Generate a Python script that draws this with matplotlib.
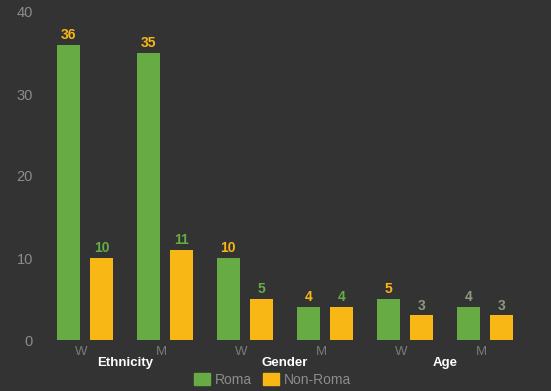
import numpy as np
import matplotlib.pyplot as plt
from matplotlib.patches import Patch

# counts per subgroup
sub_labels = ['W', 'M', 'W', 'M', 'W', 'M']
group_names = ['Ethnicity', 'Gender', 'Age']
roma = [36, 35, 10, 4, 5, 4]
non_roma = [10, 11, 5, 4, 3, 3]

BG = '#333333'
GREEN = '#67ab45'
GOLD = '#f9b715'
roma_label_colors = [GOLD, GOLD, GOLD, GOLD, GOLD, '#8a9a80']
non_label_colors = [GREEN, GREEN, GREEN, GREEN, '#8a9a80', '#8a9a80']

plt.rcParams['font.family'] = ['Liberation Sans', 'DejaVu Sans']

fig = plt.figure(figsize=(5.51, 3.91), dpi=100, facecolor=BG)
ax = fig.add_axes([40 / 551, 51 / 391, 511 / 551, 328 / 391])
ax.set_facecolor(BG)

x = np.arange(len(roma))
off, w = 0.21, 0.29
b1 = ax.bar(x - off, roma, w, color=GREEN)
b2 = ax.bar(x + off, non_roma, w, color=GOLD)

for bars, vals, cols in [(b1, roma, roma_label_colors), (b2, non_roma, non_label_colors)]:
    for b, v, c in zip(bars, vals, cols):
        ax.text(b.get_x() + b.get_width() / 2, v + 0.35, str(v), ha='center', va='bottom',
                color=c, fontsize=10, fontweight='bold')

ax.set_xlim(-0.5625, 5.825)
ax.set_ylim(0, 40)
ax.set_yticks([0, 10, 20, 30, 40])
ax.set_xticks(x - 0.05)
ax.set_xticklabels(sub_labels)
ax.tick_params(axis='y', colors='#8c8c8c', labelsize=10.5, length=0, pad=5)
ax.tick_params(axis='x', colors='#7a7a7a', labelsize=9.5, length=0, pad=4)
for s in ax.spines.values():
    s.set_visible(False)
ax.axhline(0, color='#777777', lw=0.8, ls=(0, (3, 3)), zorder=0)

for i, name in enumerate(group_names):
    ax.text(2 * i + 0.5, -0.07, name, transform=ax.get_xaxis_transform(),
            ha='center', va='center', color='white', fontsize=9.5, fontweight='bold')

handles = [Patch(color=GREEN, label='Roma'), Patch(color=GOLD, label='Non-Roma')]
fig.legend(handles=handles, loc='center', bbox_to_anchor=(273 / 551, 1 - 380 / 391),
           ncol=2, frameon=False, fontsize=10, labelcolor='#8c8c8c',
           handlelength=1.1, handleheight=1.0, handletextpad=0.4, columnspacing=0.8,
           borderpad=0)

fig.savefig('out.png', dpi=100, facecolor=BG)
